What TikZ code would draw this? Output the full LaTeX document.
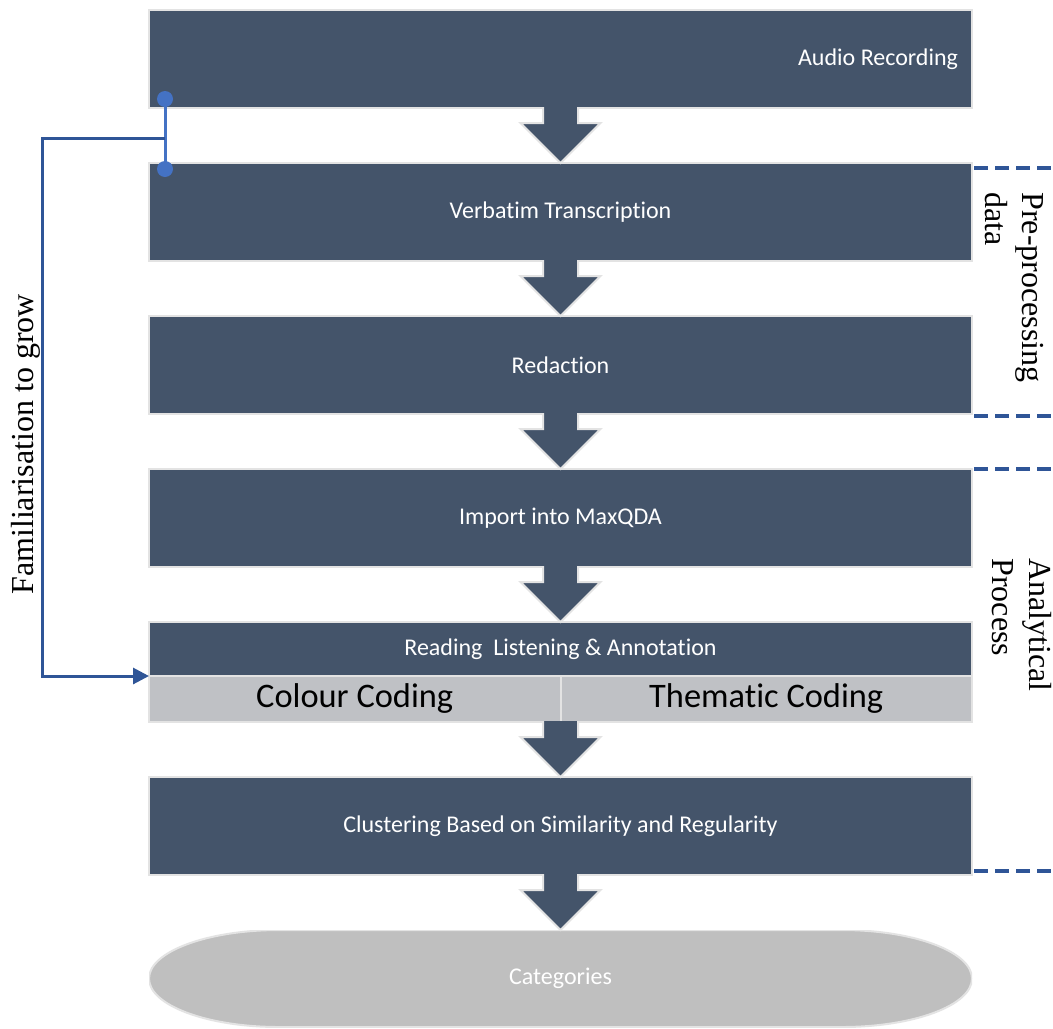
\documentclass[tikz,border=0pt]{standalone}
\usepackage{fontspec}
\usepackage{tikz}
\newfontfamily\calibri[Ligatures={NoCommon,NoRequired,NoContextual}]{Carlito}
\newfontfamily\timesfont{Liberation Serif}
\usetikzlibrary{positioning,arrows.meta}

\definecolor{boxblue}{HTML}{44546A}
\definecolor{boxedge}{HTML}{E3E3E3}
\definecolor{codegrey}{HTML}{BFC1C5}
\definecolor{endgrey}{HTML}{BFBFBF}
\definecolor{dotblue}{HTML}{4472C4}
\definecolor{lineblue}{HTML}{2F5597}

\begin{document}
\begin{tikzpicture}[x=0.5pt,y=-0.5pt,node distance=27.5pt,
	stage node/.style={rectangle,fill=boxblue,draw=boxedge,line width=1pt,outer sep=0pt,inner xsep=7pt,inner ysep=0pt,text width=397.5pt,minimum height=49pt,align=flush center,text=white,font=\calibri\fontsize{12}{14}\selectfont},
	code node/.style={rectangle,fill=codegrey,draw=boxedge,line width=1pt,outer sep=0pt,inner sep=0pt,minimum width=205.75pt,minimum height=23pt,font=\calibri\fontsize{17.2}{20}\selectfont},
	end node/.style={rectangle,fill=white,outer sep=0pt,inner sep=0pt,minimum width=411.5pt,minimum height=48.5pt,text=white,font=\calibri\fontsize{12}{14}\selectfont,
		path picture={\filldraw[fill=endgrey,draw=boxedge,line width=1pt]
			([xshift=65pt]path picture bounding box.north west) -- ([xshift=-65pt]path picture bounding box.north east)
			arc[start angle=90,end angle=-90,x radius=65pt,y radius=24.25pt]
			-- ([xshift=65pt]path picture bounding box.south west)
			arc[start angle=270,end angle=90,x radius=65pt,y radius=24.25pt] -- cycle;}},
	side label/.style={inner sep=0pt,align=left,font=\timesfont\fontsize{16}{18.5}\selectfont},
	block arrow/.style={fill=boxblue,draw=boxedge,line width=1pt},
	phase line/.style={draw=lineblue,line width=2pt,dash pattern=on 7pt off 3.5pt},
	fam line/.style={draw=lineblue,line width=1.5pt,-{Triangle[length=8pt,width=8pt]}},
	dot line/.style={draw=dotblue,line width=1.5pt}]
	
	\fill[white] (0,0) rectangle (1053,1028);
	\useasboundingbox (0,0) rectangle (1053,1028);
	
	% stages
	\node[stage node,align=flush right] (audio) at (560.5,59) {Audio Recording};
	\node[stage node] (verbatim) [below=of audio] {Verbatim Transcription};
	\node[stage node] (redact) [below=of verbatim] {Redaction};
	\node[stage node] (import) [below=of redact] {Import into MaxQDA};
	\node[stage node,minimum height=27pt] (reading) [below=of import] {Reading\ \ Listening \& Annotation};
	\node[code node,anchor=north west] (colour) at (reading.south west) {Colour Coding};
	\node[code node,anchor=north east] (thematic) at (reading.south east) {Thematic Coding};
	\node[stage node] (cluster) [below=of colour.south east] {Clustering Based on Similarity and Regularity};
	\node[end node] (cat) [below=of cluster] {Categories};
	
	% block arrows
	\foreach \src/\dst in {audio.south/verbatim.north, verbatim.south/redact.north, redact.south/import.north, import.south/reading.north, colour.south east/cluster.north, cluster.south/cat.north}
	\path[block arrow]
	([xshift=-8.75pt,yshift=0.5pt]\src) -- ([xshift=-8.75pt,yshift=-7.5pt]\src)
	-- ([xshift=-20pt,yshift=-7.5pt]\src) -- (\dst)
	-- ([xshift=20pt,yshift=-7.5pt]\src) -- ([xshift=8.75pt,yshift=-7.5pt]\src)
	-- ([xshift=8.75pt,yshift=0.5pt]\src);
	
	% familiarisation loop
	\coordinate (famtop) at ([xshift=8pt,yshift=4.5pt]audio.south west);
	\coordinate (fambot) at ([xshift=8pt,yshift=-3pt]verbatim.north west);
	\coordinate (famjoin) at ([xshift=8pt,yshift=-15pt]audio.south west);
	\draw[dot line] (famtop) -- (fambot);
	\fill[dotblue] (famtop) circle[radius=4pt] (fambot) circle[radius=4pt];
	\draw[fam line] (famjoin) -- ++(-61.5pt,0) |- (reading.south west);
	\node[side label,rotate=90,anchor=base west] (famlabel) at (33.5,595) {Familiarisation to grow};
	
	% phases
	\foreach \pt/\dy in {verbatim.north east/-2.5pt, redact.south east/-1pt, import.north east/0pt, cluster.south east/2pt}
	\draw[phase line] ([xshift=1pt,yshift=\dy]\pt) -- ++(40pt,0);
	\node[side label,rotate=-90,anchor=north west] (prelabel) at (1044,192) {Pre-processing\\data};
	\node[side label,rotate=-90,anchor=north west] (anlabel) at (1052,558) {Analytical\\Process};
	
\end{tikzpicture}
\end{document}
